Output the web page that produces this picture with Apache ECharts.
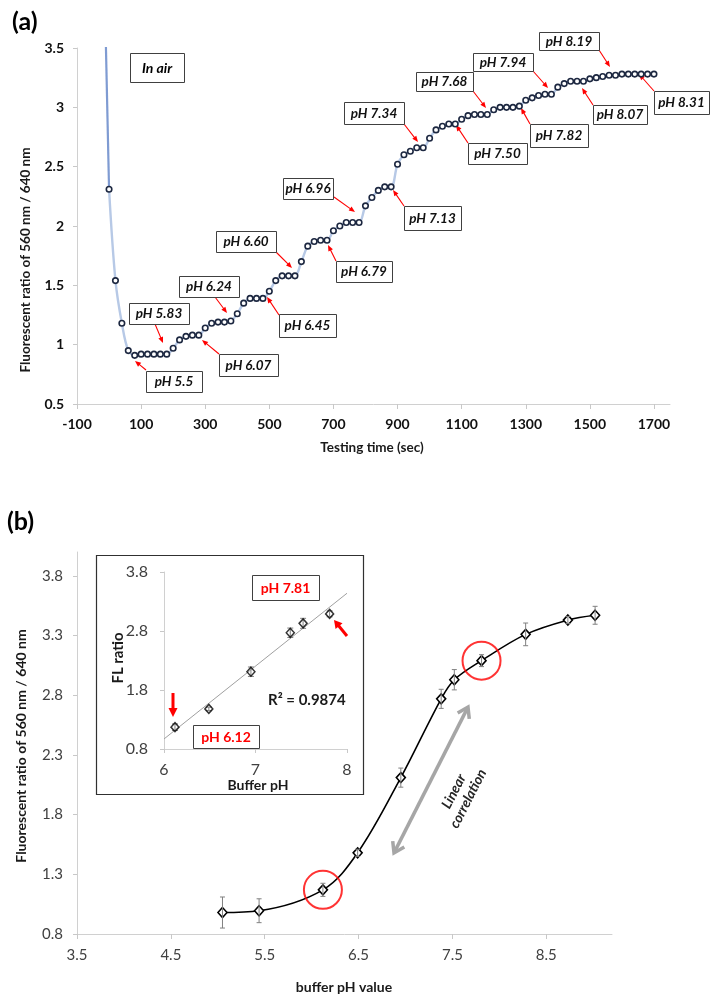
<!DOCTYPE html>
<html><head><meta charset="utf-8">
<script src="https://cdn.jsdelivr.net/npm/echarts@6/dist/echarts.min.js"></script>
<style>html,body{margin:0;padding:0;background:#fff}#c{width:719px;height:1004px}</style>
</head><body><div id="c"></div>
<script>
// ================= DATA (a) =================
const timeSec = [0,20,40,60,80,100,120,140,160,180,200,220,240,260,280,300,320,340,360,380,
  400,420,440,460,480,500,520,540,560,580,600,620,640,660,680,700,720,740,760,780,
  800,820,840,860,880,900,920,940,960,980,1000,1020,1040,1060,1080,1100,1120,1140,1160,1180,
  1200,1220,1240,1260,1280,1300,1320,1340,1360,1380,1400,1420,1440,1460,1480,1500,1520,1540,1560,1580,
  1600,1620,1640,1660,1680,1700];
const ratioA = [2.31,1.54,1.18,0.95,0.91,0.92,0.92,0.92,0.92,0.92,0.97,1.04,1.07,1.08,1.08,1.14,1.18,1.19,1.19,1.20,
  1.26,1.35,1.39,1.39,1.39,1.45,1.54,1.58,1.58,1.58,1.70,1.83,1.87,1.88,1.88,1.96,2.00,2.03,2.03,2.03,
  2.17,2.24,2.30,2.33,2.33,2.52,2.60,2.63,2.66,2.66,2.74,2.81,2.84,2.86,2.86,2.90,2.93,2.94,2.94,2.94,
  2.98,3.00,3.00,3.00,3.01,3.06,3.08,3.10,3.11,3.11,3.17,3.20,3.22,3.22,3.22,3.24,3.25,3.26,3.27,3.27,
  3.28,3.28,3.28,3.28,3.28,3.28];
const airTime = [-30, 0];
const airRatio = [6.0, 2.31];
const xTicksA = [-100,100,300,500,700,900,1100,1300,1500,1700];
const yTicksA = [0.5,1,1.5,2,2.5,3,3.5];

// ================= DATA (b) =================
const bufferPH = [5.05,5.44,6.12,6.49,6.95,7.38,7.52,7.81,8.28,8.73,9.02];
const flRatio  = [0.98,0.995,1.17,1.48,2.11,2.77,2.93,3.09,3.31,3.43,3.47];
const flError  = [0.13,0.10,0.055,0.03,0.08,0.08,0.085,0.05,0.095,0.03,0.075];
const xTicksB = [3.5,4.5,5.5,6.5,7.5,8.5];
const yTicksB = [0.8,1.3,1.8,2.3,2.8,3.3,3.8];
const circledIdx = [2, 7];
const insetFrom = 2, insetTo = 8;   // points pH 6.12 .. 7.81
const trendPH = [6, 8];
const trendFL = [0.97, 3.44];
const insetXTicks = [6,7,8];
const insetYTicks = [0.8,1.8,2.8,3.8];

// ================= ANNOTATIONS (layout) =================
const FONT = 'Lato, "Open Sans", sans-serif';
const boxesA = [
  ['pH 5.5', 146,371,202,392, [146,370,135,361]],
  ['pH 5.83',129,303,189,324, [155,324,163,343]],
  ['pH 6.07',219,354,278,376, [219,354,202,340]],
  ['pH 6.24',179,276,239,297, [215,297,227,313]],
  ['pH 6.45',279,314,336,337, [279,315,267,297]],
  ['pH 6.60',216,231,276,252, [276,252,292,268]],
  ['pH 6.79',336,261,392,282, [336,261,328,245]],
  ['pH 6.96',283,178,333,199, [334,197,355,212]],
  ['pH 7.13',404,206,461,230, [404,206,393,190]],
  ['pH 7.34',344,102,404,124, [404,124,418,142]],
  ['pH 7.50',468,143,527,164, [468,143,456,125]],
  ['pH 7.68',416,72,473,91,   [473,91,486,108]],
  ['pH 7.82',530,124,588,147, [530,124,521,108]],
  ['pH 7.94',473,53,533,71,   [533,71,548,88]],
  ['pH 8.07',593,105,647,124, [593,105,582,88]],
  ['pH 8.19',539,32,599,50,   [599,50,610,67]],
  ['pH 8.31',654,91,709,114,  [654,91,639,74]]
];

function arrow(x1,y1,x2,y2,color,lw,hl,hw){
  const dx=x2-x1, dy=y2-y1, L=Math.hypot(dx,dy), ux=dx/L, uy=dy/L;
  const bx=x2-ux*hl, by=y2-uy*hl, px=-uy, py=ux;
  return [
    {type:'line', silent:true, shape:{x1:x1,y1:y1,x2:bx+ux*1,y2:by+uy*1}, style:{stroke:color,lineWidth:lw}},
    {type:'polygon', silent:true, shape:{points:[[x2,y2],[bx+px*hw/2,by+py*hw/2],[bx-px*hw/2,by-py*hw/2]]}, style:{fill:color}}
  ];
}
function chevron(x,y,ux,uy,len,w,color,lw){
  const bx=x-ux*len, by=y-uy*len, px=-uy, py=ux;
  return {type:'polyline', silent:true, shape:{points:[[bx+px*w/2,by+py*w/2],[x,y],[bx-px*w/2,by-py*w/2]]},
          style:{stroke:color,lineWidth:lw,fill:null}};
}
function box(text,x1,y1,x2,y2,color,italic,size){
  return [
    {type:'rect', silent:true, shape:{x:x1+0.5,y:y1+0.5,width:x2-x1,height:y2-y1}, style:{fill:'#fff',stroke:'#404040',lineWidth:1}, z:10},
    {type:'text', silent:true, x:(x1+x2)/2, y:(y1+y2)/2+0.5, z:11,
     style:{text:text, fill:color, font:(italic?'italic ':'')+'bold '+size+'px '+FONT, align:'center', verticalAlign:'middle'}}
  ];
}

const graphics = [];
graphics.push({type:'text', x:12, y:22, style:{text:'(a)', font:'bold 25px '+FONT, fill:'#000', verticalAlign:'middle'}});
graphics.push({type:'text', x:7, y:522, style:{text:'(b)', font:'bold 25px '+FONT, fill:'#000', verticalAlign:'middle'}});
graphics.push({type:'text', x:26, y:260, rotation:Math.PI/2,
  style:{text:'Fluorescent ratio of 560 nm / 640 nm', font:'bold 13.5px '+FONT, fill:'#1a1a1a', align:'center', verticalAlign:'middle'}});
graphics.push({type:'text', x:372, y:448,
  style:{text:'Testing time (sec)', font:'bold 13.5px '+FONT, fill:'#1a1a1a', align:'center', verticalAlign:'middle'}});
graphics.push({type:'text', x:21, y:746, rotation:Math.PI/2,
  style:{text:'Fluorescent ratio of 560 nm / 640 nm', font:'bold 14px '+FONT, fill:'#1a1a1a', align:'center', verticalAlign:'middle'}});
graphics.push({type:'text', x:344, y:987,
  style:{text:'buffer pH value', font:'bold 14px '+FONT, fill:'#1a1a1a', align:'center', verticalAlign:'middle'}});

graphics.push(...box('In air',130,53,184,82,'#000',true,14));
boxesA.forEach(b=>{
  graphics.push(...box(b[0],b[1],b[2],b[3],b[4],'#111',true,13.5));
  const a=b[5];
  graphics.push(...arrow(a[0],a[1],a[2],a[3],'#ff0000',1.1,6,5));
});

// inset frame and texts
graphics.push({type:'rect', silent:true, shape:{x:96.5,y:555.5,width:267,height:239}, style:{fill:null,stroke:'#303030',lineWidth:1.2}, z:1});
graphics.push({type:'text', x:118, y:658, rotation:Math.PI/2,
  style:{text:'FL ratio', font:'bold 15px '+FONT, fill:'#1a1a1a', align:'center', verticalAlign:'middle'}});
graphics.push({type:'text', x:258, y:785,
  style:{text:'Buffer pH', font:'bold 14px '+FONT, fill:'#1a1a1a', align:'center', verticalAlign:'middle'}});
graphics.push({type:'text', x:268, y:700,
  style:{text:'R² = 0.9874', font:'bold 15px '+FONT, fill:'#1a1a1a', align:'left', verticalAlign:'middle'}});
graphics.push(...box('pH 7.81',252,575,319,600,'#ff0000',false,14));
graphics.push(...box('pH 6.12',193,725,259,748,'#ff0000',false,14));
graphics.push(...arrow(173,693,173,717,'#ff0000',3,9,9));
graphics.push(...arrow(347,636,334,620,'#ff0000',3,8,9));

// gray double arrow + label
(function(){
  const x1=394,y1=853,x2=468,y2=707, col='#a6a6a6';
  const dx=x2-x1, dy=y2-y1, L=Math.hypot(dx,dy), ux=dx/L, uy=dy/L;
  graphics.push({type:'line', silent:true, shape:{x1:x1+ux*1.5,y1:y1+uy*1.5,x2:x2-ux*1.5,y2:y2-uy*1.5}, style:{stroke:col,lineWidth:3.5}});
  graphics.push(chevron(x2,y2,ux,uy,10,13,col,3.5));
  graphics.push(chevron(x1,y1,-ux,-uy,10,13,col,3.5));
})();
graphics.push({type:'text', x:461, y:795, rotation:63*Math.PI/180,
  style:{text:'Linear\ncorrelation', font:'italic bold 14px '+FONT, fill:'#262626', align:'center', verticalAlign:'middle', lineHeight:16}});

// ================= CHART =================
function errRender(params, api){
  const x=api.value(0), y=api.value(1), e=api.value(2);
  const t=api.coord([x,y+e]), b=api.coord([x,y-e]);
  const cap = params.seriesIndex===5 ? 3 : 2.5;
  const st={stroke:'#808080', lineWidth:1};
  return {type:'group', children:[
    {type:'line', shape:{x1:t[0],y1:t[1],x2:b[0],y2:b[1]}, style:st},
    {type:'line', shape:{x1:t[0]-cap,y1:t[1],x2:t[0]+cap,y2:t[1]}, style:st},
    {type:'line', shape:{x1:b[0]-cap,y1:b[1],x2:b[0]+cap,y2:b[1]}, style:st}
  ]};
}

const plain = v => String(v);
const axLabelA = {fontFamily:FONT, fontWeight:'bold', fontSize:14, color:'#111', formatter:plain};
const axLabelB = {fontFamily:FONT, fontSize:15, color:'#404040'};
const axLine = {lineStyle:{color:'#d0d0d0', width:1}};

const mainPts = bufferPH.map((p,i)=>[p, flRatio[i]]);
const errPts  = bufferPH.map((p,i)=>[p, flRatio[i], flError[i]]);
const insetPts = mainPts.slice(insetFrom, insetTo);
const insetErr = errPts.slice(insetFrom, insetTo);

const option = {
  animation:false,
  backgroundColor:'#fff',
  grid:[
    {left:77, top:48, width:593, height:356},
    {left:77, top:552, width:535, height:382},
    {left:164, top:572, width:183, height:177}
  ],
  xAxis:[
    {gridIndex:0, type:'value', min:-100, max:1750, interval:200,
     axisLine:{show:true, onZero:false, ...axLine}, splitLine:{show:false},
     axisTick:{show:true, length:5, lineStyle:{color:'#c8c8c8'}, customValues:xTicksA},
     axisLabel:{...axLabelA, margin:13, customValues:xTicksA}},
    {gridIndex:1, type:'value', min:3.5, max:9.2, interval:1,
     axisLine:{show:true, onZero:false, ...axLine}, splitLine:{show:false},
     axisTick:{show:true, length:5, lineStyle:{color:'#c8c8c8'}, customValues:xTicksB},
     axisLabel:{...axLabelB, margin:14, customValues:xTicksB, formatter:v=>v.toFixed(1)}},
    {gridIndex:2, type:'value', min:6, max:8, interval:1,
     axisLine:{show:true, onZero:false, ...axLine}, splitLine:{show:false},
     axisTick:{show:true, length:4, lineStyle:{color:'#c8c8c8'}, customValues:insetXTicks},
     axisLabel:{...axLabelB, fontSize:16, margin:13, customValues:insetXTicks}}
  ],
  yAxis:[
    {gridIndex:0, type:'value', min:0.5, max:3.5, interval:0.5,
     axisLine:{show:true, onZero:false, ...axLine}, splitLine:{show:false},
     axisTick:{show:true, length:4, lineStyle:{color:'#c8c8c8'}, customValues:yTicksA},
     axisLabel:{...axLabelA, margin:13, customValues:yTicksA}},
    {gridIndex:1, type:'value', min:0.8, max:4.0,
     axisLine:{show:true, onZero:false, ...axLine}, splitLine:{show:false},
     axisTick:{show:true, length:4, lineStyle:{color:'#c8c8c8'}, customValues:yTicksB},
     axisLabel:{...axLabelB, margin:14, customValues:yTicksB, formatter:v=>v.toFixed(1)}},
    {gridIndex:2, type:'value', min:0.8, max:3.8,
     axisLine:{show:true, onZero:false, ...axLine}, splitLine:{show:false},
     axisTick:{show:true, length:4, lineStyle:{color:'#c8c8c8'}, customValues:insetYTicks},
     axisLabel:{...axLabelB, fontSize:16, margin:16, customValues:insetYTicks, formatter:v=>v.toFixed(1)}}
  ],
  series:[
    {type:'line', xAxisIndex:0, yAxisIndex:0, data:airTime.map((t,i)=>[t,airRatio[i]]),
     showSymbol:false, lineStyle:{color:'#7f9bd2', width:2.2}, clip:true, z:2, silent:true},
    {type:'line', xAxisIndex:0, yAxisIndex:0, data:timeSec.map((t,i)=>[t,ratioA[i]]),
     smooth:0.35, symbol:'circle', symbolSize:5.5, showAllSymbol:true,
     lineStyle:{color:'#b7c9e6', width:2.4},
     itemStyle:{color:'#ffffff', borderColor:'#1c2740', borderWidth:1.6}, z:3, silent:true},
    {type:'line', xAxisIndex:1, yAxisIndex:1, data:mainPts, smooth:0.35,
     symbol:'diamond', symbolSize:[9,10], showAllSymbol:true,
     lineStyle:{color:'#000', width:1.6},
     itemStyle:{color:'#ffffff', borderColor:'#000', borderWidth:1.6}, z:3, silent:true},
    {type:'custom', xAxisIndex:1, yAxisIndex:1, data:errPts, renderItem:errRender,
     encode:{x:0,y:1}, z:4, silent:true},
    {type:'scatter', xAxisIndex:1, yAxisIndex:1, data:circledIdx.map(i=>mainPts[i]),
     symbol:'circle', symbolSize:38, itemStyle:{color:'rgba(0,0,0,0)', borderColor:'#ff0000', borderWidth:2}, z:5, silent:true},
    {type:'custom', xAxisIndex:2, yAxisIndex:2, data:insetErr, renderItem:errRender,
     encode:{x:0,y:1}, z:4, silent:true},
    {type:'line', xAxisIndex:2, yAxisIndex:2, data:trendPH.map((p,i)=>[p,trendFL[i]]),
     showSymbol:false, lineStyle:{color:'#a0a0a0', width:1}, z:2, silent:true},
    {type:'scatter', xAxisIndex:2, yAxisIndex:2, data:insetPts,
     symbol:'diamond', symbolSize:[8,9],
     itemStyle:{color:'rgba(255,255,255,0)', borderColor:'#000', borderWidth:1.5}, z:5, silent:true}
  ],
  graphic:{elements:graphics}
};
const chart = echarts.init(document.getElementById('c'), null, {renderer:'canvas'});
chart.setOption(option);
</script>
</body></html>
